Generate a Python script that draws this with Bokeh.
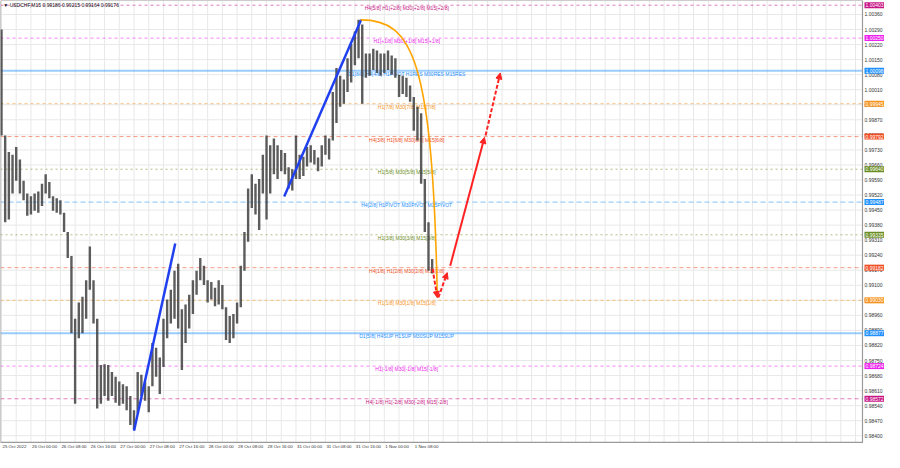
from bokeh.plotting import figure
from bokeh.models import Arrow, NormalHead, Range1d, ColumnDataSource
from bokeh.core.properties import value
from bokeh.embed import file_html
from bokeh.resources import INLINE

FONT = "Liberation Sans"

# ---------------- data ----------------
# trading-hour index starting 25 Oct 2022 16:00 (weekend removed)
hours = list(range(118))
highs = [1.00290, 0.99797, 0.99720, 0.99707, 0.99743, 0.99685, 0.99586, 0.99527, 0.99514, 0.99527,
         0.99536, 0.99572, 0.99617, 0.99581, 0.99514, 0.99505, 0.99496, 0.99438, 0.99348, 0.99236,
         0.98944, 0.99020, 0.99047, 0.99124, 0.99281, 0.99124, 0.98944, 0.98729, 0.98733, 0.98729,
         0.98697, 0.98675, 0.98652, 0.98639, 0.98630, 0.98585, 0.98518, 0.98697, 0.98684, 0.98652,
         0.98630, 0.98832, 0.98809, 0.98764, 0.98944, 0.99034, 0.99079, 0.99168, 0.99200, 0.98989,
         0.99011, 0.99056, 0.99124, 0.99168, 0.99227, 0.99191, 0.99124, 0.99115, 0.99088, 0.99124,
         0.99101, 0.98998, 0.98957, 0.98966, 0.99020, 0.99191, 0.99348, 0.99550, 0.99617, 0.99572,
         0.99595, 0.99707, 0.99797, 0.99752, 0.99783, 0.99752, 0.99729, 0.99716, 0.99649, 0.99640,
         0.99797, 0.99707, 0.99698, 0.99743, 0.99752, 0.99729, 0.99694, 0.99752, 0.99797, 0.99783,
         0.99999, 1.00111, 1.00075, 1.00057, 1.00156, 1.00223, 1.00281, 1.00335, 1.00313, 1.00178,
         1.00178, 1.00201, 1.00192, 1.00178, 1.00178, 1.00192, 1.00169, 1.00156, 1.00079, 1.00075,
         1.00066, 1.00030, 0.99976, 0.99931, 0.99900, 0.99595, 0.99393, 0.99222]
lows = [0.99797, 0.99393, 0.99406, 0.99527, 0.99586, 0.99527, 0.99496, 0.99424, 0.99429, 0.99447,
        0.99438, 0.99469, 0.99527, 0.99505, 0.99447, 0.99438, 0.99429, 0.99348, 0.99227, 0.98877,
        0.98549, 0.98854, 0.98877, 0.98944, 0.99079, 0.98922, 0.98527, 0.98549, 0.98585, 0.98563,
        0.98585, 0.98554, 0.98540, 0.98549, 0.98518, 0.98450, 0.98428, 0.98504, 0.98585, 0.98563,
        0.98509, 0.98630, 0.98675, 0.98594, 0.98720, 0.98854, 0.98922, 0.98944, 0.98899, 0.98706,
        0.98832, 0.98899, 0.98966, 0.99056, 0.99124, 0.99101, 0.99020, 0.99034, 0.99002, 0.99011,
        0.98989, 0.98845, 0.98832, 0.98854, 0.98922, 0.98998, 0.99168, 0.99303, 0.99460, 0.99429,
        0.99357, 0.99527, 0.99406, 0.99527, 0.99617, 0.99595, 0.99631, 0.99617, 0.99550, 0.99541,
        0.99595, 0.99595, 0.99608, 0.99653, 0.99671, 0.99662, 0.99631, 0.99653, 0.99707, 0.99685,
        0.99774, 0.99855, 0.99931, 0.99945, 0.99999, 1.00044, 1.00124, 1.00156, 0.99945, 1.00066,
        1.00075, 1.00102, 1.00088, 1.00075, 1.00088, 1.00102, 1.00079, 1.00066, 0.99976, 0.99990,
        0.99976, 0.99954, 0.99819, 0.99774, 0.99572, 0.99348, 0.99168, 0.99155]

header_text = "\u25bc USDCHF,M15  0.99186 0.99215 0.99164 0.99176"

level_prices = [1.00403, 1.00250, 1.00098, 0.99945, 0.99792, 0.99640, 0.99487,
                0.99335, 0.99182, 0.99030, 0.98877, 0.98724, 0.98572]
level_names = ["H4[5/8] H1[+2/8] M30[+2/8] M15[+2/8]",
               "H1[+1/8] M30[+1/8] M15[+1/8]",
               "D1[8/8] H4[4/8] H1PIVOT H1RES M30RES M15RES",
               "H1[7/8] M30[7/8] M15[7/8]",
               "H4[3/8] H1[6/8] M30[6/8] M15[6/8]",
               "H1[5/8] M30[5/8] M15[5/8]",
               "H4[2/8] H1PIVOT M30PIVOT M15PIVOT",
               "H1[3/8] M30[3/8] M15[3/8]",
               "H4[1/8] H1[2/8] M30[2/8] M15[2/8]",
               "H1[1/8] M30[1/8] M15[1/8]",
               "D1[5/8] H4SUP H1SUP M30SUP M15SUP",
               "H1[-1/8] M30[-1/8] M15[-1/8]",
               "H4[-1/8] H1[-2/8] M30[-2/8] M15[-2/8]"]
level_colors = ["#C71585", "#EE22EE", "#1E90FF", "#F7941D", "#F04E23", "#6B8E23", "#1E90FF",
                "#6B8E23", "#F04E23", "#F7941D", "#1E90FF", "#EE22EE", "#C71585"]
level_dashes = ["3 3", "3 3", "solid", "3 3", "4 3", "2 3", "5 3",
                "2 3", "4 3", "3 3", "solid", "3 3", "4 3"]

x_tick_hours = [0, 8, 16, 24, 32, 40, 48, 56, 64, 72, 80, 88, 96, 104, 112]
x_tick_labels = ["25 Oct 2022", "26 Oct 00:00", "26 Oct 08:00", "26 Oct 16:00", "27 Oct 00:00",
                 "27 Oct 08:00", "27 Oct 16:00", "28 Oct 00:00", "28 Oct 08:00", "28 Oct 16:00",
                 "31 Oct 00:00", "31 Oct 08:00", "31 Oct 16:00", "1 Nov 00:00", "1 Nov 08:00"]
y_ticks = [round(0.98400 + 0.0007 * k, 5) for k in range(29)]
grid_hours = list(range(0, 233, 4))

# drawn objects (time index, price)
trend1_h = [36.0, 47.2]
trend1_p = [0.98423, 0.99294]
trend2_h = [76.8, 97.7]
trend2_p = [0.99513, 1.00335]
arc_h = [97.6, 111.7, 117.1, 118.4]          # start, ctrl1, ctrl2, end
arc_p = [1.00335, 1.00335, 1.00156, 0.99043]
arrows = [  # h0, p0, h1, p1, dashed
    (117.1, 0.99177, 118.4, 0.99043, True),
    (118.7, 0.99043, 121.1, 0.99159, True),
    (121.9, 0.99191, 131.2, 0.99788, False),
    (131.5, 0.99797, 135.5, 1.00088, True),
]

# ---------------- figure ----------------
# chart window (frame) in data units; canvas extends right/below for the scales
H_L, H_R = -0.27, 233.9
P_B, P_T = 0.98369, 1.00425
p = figure(width=884, height=452, x_range=Range1d(H_L, 239.88), y_range=Range1d(0.98322, P_T),
           output_backend="svg", toolbar_location=None,
           x_axis_location=None, y_axis_location=None, min_border=0,
           background_fill_color="white", border_fill_color="white")
p.outline_line_color = None
p.xgrid.visible = False
p.ygrid.visible = False

GRID = "#e8e8e8"
# grid
p.segment(x0=grid_hours, y0=[P_B] * len(grid_hours), x1=grid_hours, y1=[P_T] * len(grid_hours),
          line_color=GRID, line_width=1)
p.segment(x0=[H_L] * len(y_ticks), y0=y_ticks, x1=[H_R] * len(y_ticks), y1=y_ticks,
          line_color=GRID, line_width=1)

# level lines
for price, col, dash in zip(level_prices, level_colors, level_dashes):
    solid = dash == "solid"
    p.line([H_L, H_R], [price, price], line_color=col,
           line_alpha=0.45 if solid else 0.55, line_width=2 if solid else 1, line_dash=dash)

# frame border
p.quad(left=[H_L], right=[H_R], bottom=[P_B], top=[P_T], fill_color=None,
       line_color="#9a9a9a", line_width=1.2)

# level labels on chart
p.text(x=[110.1] * len(level_prices), y=level_prices, text=level_names, text_color=level_colors,
       text_font_size="5px", text_align="center", text_baseline="top", text_font=value(FONT))

# price bars
src = ColumnDataSource(dict(h=hours, hi=highs, lo=lows))
p.segment(x0="h", y0="lo", x1="h", y1="hi", source=src, line_color="#404040", line_width=2.4,
          line_alpha=0.85)

# trend lines
p.line(trend1_h, trend1_p, line_color="#2040F0", line_width=2.5)
p.line(trend2_h, trend2_p, line_color="#2040F0", line_width=2.5)

# arc
p.bezier(x0=[arc_h[0]], y0=[arc_p[0]], cx0=[arc_h[1]], cy0=[arc_p[1]],
         cx1=[arc_h[2]], cy1=[arc_p[2]], x1=[arc_h[3]], y1=[arc_p[3]],
         line_color="#FFA500", line_width=1.6)

# arrows
for h0, p0, h1, p1, dashed in arrows:
    p.add_layout(Arrow(x_start=h0, y_start=p0, x_end=h1, y_end=p1,
                       line_color="#FF2222", line_width=2,
                       line_dash="4 2" if dashed else "solid",
                       end=NormalHead(size=6, fill_color="#FF2222", line_color="#FF2222")))

# header
p.text(x=[0.5], y=[1.00403], text=[header_text], text_font_size="5px", text_font=value(FONT),
       text_color="#111111", text_baseline="middle", text_align="left")

# right price scale
p.text(x=[H_R] * len(y_ticks), y=y_ticks, text=["%.5f" % t for t in y_ticks], x_offset=2,
       text_font_size="5px", text_font=value(FONT), text_color="#333333",
       text_baseline="middle", text_align="left")
# time scale
p.text(x=x_tick_hours, y=[P_B] * len(x_tick_hours), text=x_tick_labels, x_offset=1, y_offset=2,
       text_font_size="4.4px", text_font=value(FONT), text_color="#333333",
       text_baseline="top", text_align="left")

# price boxes on right scale
p.text(x=[H_R] * len(level_prices), y=level_prices, text=["%.5f" % v for v in level_prices],
       x_offset=2, text_font_size="5px", text_font=value(FONT), text_color="white",
       text_baseline="middle", text_align="left",
       background_fill_color=level_colors, padding=1)

open("out.html", "w").write(file_html(p, INLINE))
